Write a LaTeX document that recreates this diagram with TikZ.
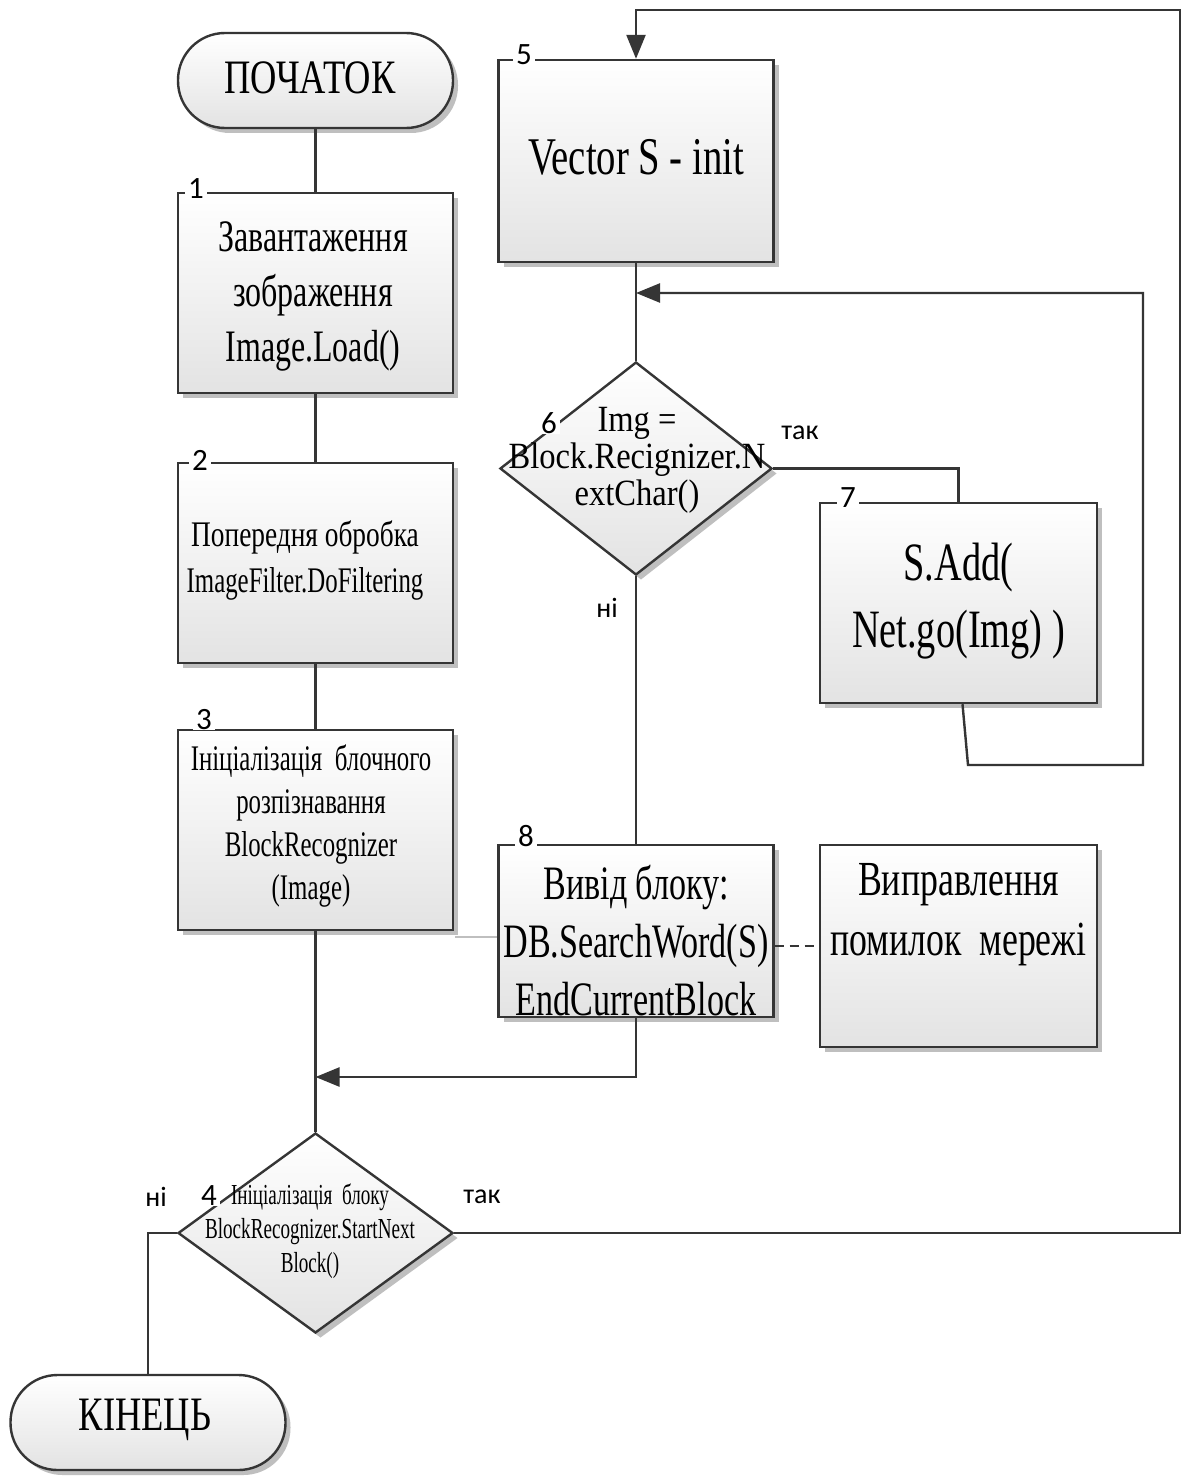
\documentclass[tikz,border=0pt]{standalone}
\usepackage{fontspec}
\setmainfont{Liberation Serif}
\newfontfamily\sA[FakeStretch=0.66]{Liberation Serif}
\newfontfamily\sB[FakeStretch=0.69]{Liberation Serif}
\newfontfamily\sC[FakeStretch=0.71]{Liberation Serif}
\newfontfamily\sD[FakeStretch=0.73]{Liberation Serif}
\newfontfamily\sE[FakeStretch=0.76]{Liberation Serif}
\newfontfamily\sF[FakeStretch=0.88]{Liberation Serif}
\newfontfamily\sansf{Carlito}
\usetikzlibrary{shapes.geometric,shadows,arrows.meta}
\definecolor{lc}{HTML}{353535}
\newcommand\fsz[2]{\fontsize{#1}{#2}\selectfont}
\begin{document}
\begin{tikzpicture}[x=1pt,y=-1pt,
  ln/.style={draw=lc, line width=2.4pt},
  arr/.style={ln, -{Triangle[length=24pt,width=19pt]}},
  boxshade/.style={top color=white, bottom color=black!11,
     drop shadow={shadow xshift=5pt, shadow yshift=-5pt, fill=black!45, opacity=0.55}},
  blk/.style={rectangle, draw=lc, line width=2.4pt, boxshade, inner sep=0pt, minimum width=275pt},
  term/.style={rectangle, rounded corners=47pt, draw=lc, line width=2.4pt, boxshade, inner sep=0pt, minimum width=275pt, minimum height=95pt},
  dia/.style={diamond, draw=lc, line width=2.4pt, boxshade, inner sep=0pt},
  txt/.style={align=center, inner sep=0pt, text=black},
  num/.style={font=\sansf\fsz{31}{33}, fill=white, inner xsep=3pt, inner ysep=0pt, text=black},
  lab/.style={font=\sansf\fsz{28}{30}, inner sep=0pt, text=black}]
\useasboundingbox[fill=white] (0,0) rectangle (1192,1477);

% ---- shapes
\node[term] (start) at (315.5,80.5) {};
\node[blk, minimum height=200pt] (b1) at (315.5,293) {};
\node[blk, minimum height=200pt] (b2) at (315.5,563) {};
\node[blk, minimum height=200pt] (b3) at (315.5,830) {};
\node[dia, minimum width=275pt, minimum height=200pt] (d4) at (315.5,1233) {};
\node[term] (e) at (148,1422.5) {};
\node[blk, minimum height=202pt] (b5) at (636,161) {};
\node[dia, minimum width=272pt, minimum height=213pt] (d6) at (636,468.5) {};
\node[blk, minimum width=277pt, minimum height=200pt] (b7) at (958.5,603) {};
\node[blk, minimum height=172pt] (b8) at (636,931) {};
\node[blk, minimum width=277pt, minimum height=202pt] (b9) at (958.5,946) {};

% ---- texts
\node[txt, font=\sE\fsz{48}{50}] (tstart) at (310,78) {ПОЧАТОК};
\node[txt, font=\sC\fsz{45}{55}] (t1) at (313,296) {Завантаження\\зображення\\Image.Load()};
\node[txt, font=\sB\fsz{36}{46}] (t2) at (305,560) {{\sE Попередня обробка}\\ImageFilter.DoFiltering};
\node[txt, font=\sB\fsz{36}{43}] (t3) at (311,826) {Ініціалізація \ блочного\\розпізнавання\\BlockRecognizer\\(Image)};
\node[txt, font=\sA\fsz{29}{34}] (t4) at (310,1231) {Ініціалізація \ блоку\\BlockRecognizer.StartNext\\Block()};
\node[txt, font=\sE\fsz{48}{50}] (tend) at (145,1420) {КІНЕЦЬ};
\node[txt, font=\sD\fsz{53}{56}] (t5) at (636,157) {Vector S - init};
\node[txt, font=\sF\fsz{37}{37}] (t6) at (637,460) {Img =\\Block.Recignizer.N\\extChar()};
\node[txt, font=\sC\fsz{54}{67}] (t7) at (958.5,601) {S.Add(\\Net.go(Img) )};
\node[txt, font=\sC\fsz{48}{58}] (t8) at (636,941) {Вивід блоку:\\DB.SearchWord(S)\\EndCurrentBlock};
\node[txt, font=\sD\fsz{49}{60}] (t9) at (958.5,915) {Виправлення\\помилок \ мережі};

% ---- numbers
\node[num] (n1) at (196,189) {1};
\node[num] (n2) at (200,460) {2};
\node[num] (n3) at (204,720) {3};
\node[num] (n4) at (209,1196) {4};
\node[num] (n5) at (524,55) {5};
\node[num] (n6) at (549,423) {6};
\node[num] (n7) at (848,498) {7};
\node[num] (n8) at (526,836) {8};

% ---- branch labels
\node[lab] (y6) at (800,433) {так};
\node[lab] (no6) at (607,608) {ні};
\node[lab] (no4) at (156,1197) {ні};
\node[lab] (y4) at (482,1197) {так};

% ---- connector coordinates
\coordinate (c1) at (1180,1233);
\coordinate (c2) at (1180,10);
\coordinate (c3) at (968,765);
\coordinate (c4) at (1143,765);
\coordinate (c5) at (1143,293);
\coordinate (c6) at (636,293);
\coordinate (j1) at (315.5,1077);
\coordinate (g1) at (455,937);

% ---- connectors
\draw[ln] (start) -- (b1);
\draw[ln] (b1) -- (b2);
\draw[ln] (b2) -- (b3);
\draw[ln] (b3) -- (d4);
\draw[arr] (b8.south) |- (j1);
\draw[ln] (d4.west) -| (e.north);
\draw[arr] (d4.east) -- (c1) -- (c2) -| (b5.north);
\draw[ln] (b5) -- (d6);
\draw[ln] (d6.east) -| (b7.north);
\draw[ln] (d6.south) -- (b8.north);
\draw[arr] ([xshift=4pt]b7.south) -- (c3) -- (c4) -- (c5) -- (c6);
\draw[draw=black!25, line width=2.4pt] (g1) -- (g1 -| b8.west);
\draw[ln, dash pattern=on 9pt off 6pt] (b8.east |- b9.west) -- (b9.west);
\end{tikzpicture}
\end{document}
